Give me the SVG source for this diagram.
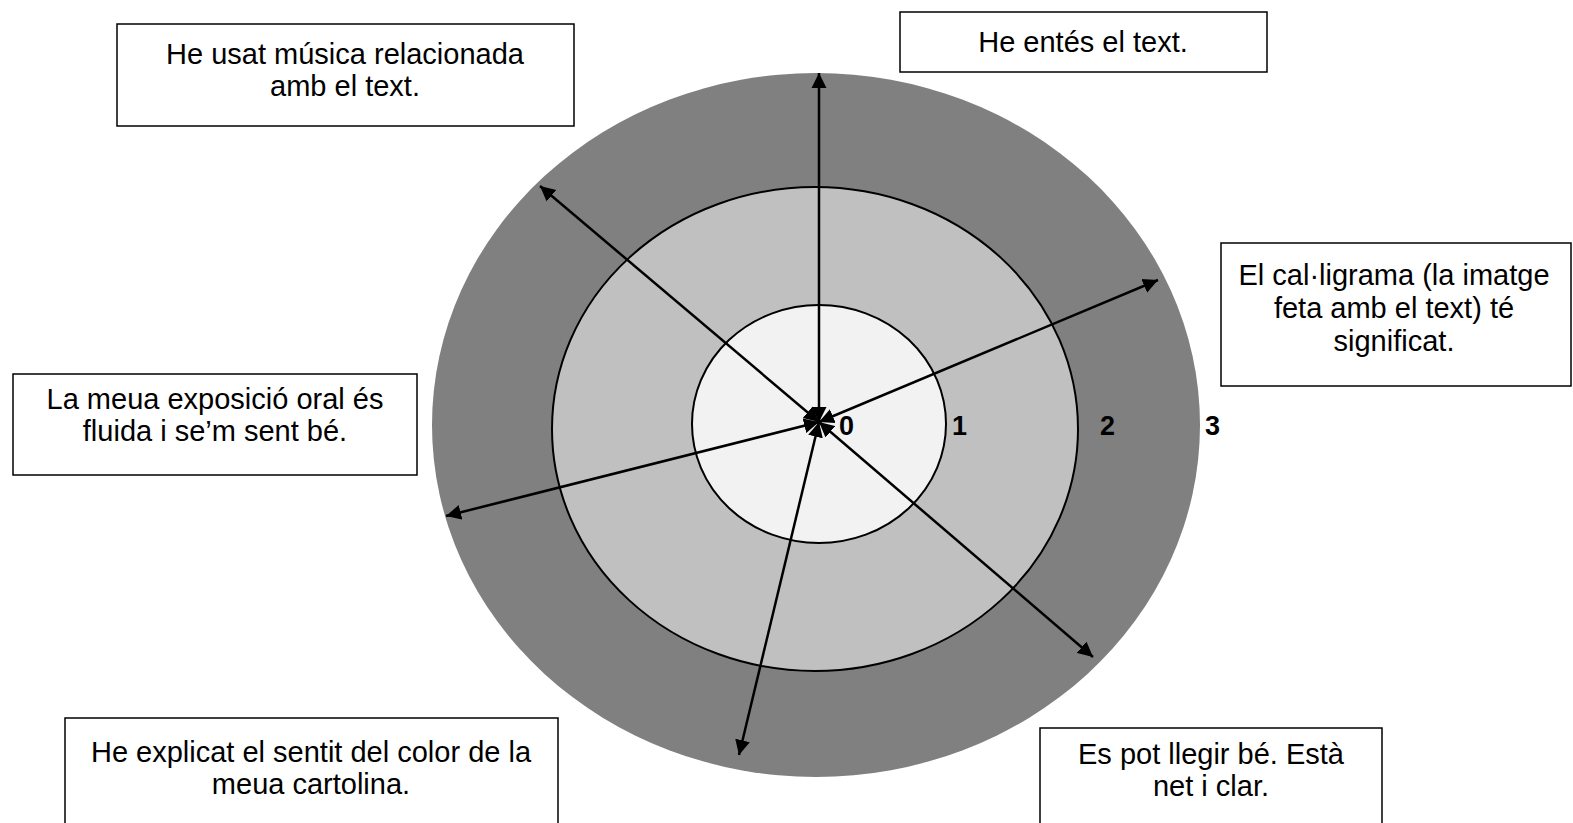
<svg xmlns="http://www.w3.org/2000/svg" width="1573" height="823" viewBox="0 0 1573 823">
<style>
.box{fill:#fff;stroke:#000;stroke-width:1.5}
.t{font-family:"Liberation Sans",Arial,sans-serif;font-size:29px;fill:#000;text-anchor:middle}
.n{font-family:"Liberation Sans",Arial,sans-serif;font-size:27px;font-weight:bold;fill:#000}
.ring{stroke:#000;stroke-width:2}
.ar{stroke:#000;stroke-width:2.5;fill:none;marker-start:url(#ah);marker-end:url(#ah)}
</style>
<defs>
<marker id="ah" markerUnits="userSpaceOnUse" viewBox="0 0 16 16" markerWidth="16" markerHeight="16" refX="15" refY="8" orient="auto-start-reverse">
<path d="M0,0.5 L15,8 L0,15.5 z" fill="#000"/>
</marker>
</defs>
<g id="target">
<ellipse cx="816" cy="425" rx="384" ry="352" fill="#808080"/>
<ellipse class="ring" cx="815" cy="429" rx="263" ry="242" fill="#c0c0c0"/>
<ellipse class="ring" cx="819" cy="424" rx="127" ry="119" fill="#f2f2f2"/>
</g>
<g id="connectors">
<line class="ar" x1="819" y1="422" x2="819" y2="73"/>
<line class="ar" x1="819" y1="422" x2="540" y2="186"/>
<line class="ar" x1="819" y1="422" x2="1158" y2="280"/>
<line class="ar" x1="819" y1="422" x2="446" y2="516"/>
<line class="ar" x1="819" y1="422" x2="739" y2="755"/>
<line class="ar" x1="819" y1="422" x2="1093" y2="657"/>
</g>
<g id="scale">
<text class="n" x="839" y="435">0</text>
<text class="n" x="952" y="435">1</text>
<text class="n" x="1100" y="435">2</text>
<text class="n" x="1205" y="435">3</text>
</g>
<g id="box-musica">
<rect class="box" x="117" y="24" width="457" height="102"/>
<text class="t" x="345" y="64">He usat música relacionada</text>
<text class="t" x="345" y="96">amb el text.</text>
</g>
<g id="box-entes">
<rect class="box" x="900" y="12" width="367" height="60"/>
<text class="t" x="1083" y="52">He entés el text.</text>
</g>
<g id="box-cal">
<rect class="box" x="1221" y="243" width="350" height="143"/>
<text class="t" x="1394" y="285">El cal·ligrama (la imatge</text>
<text class="t" x="1394" y="318">feta amb el text) té</text>
<text class="t" x="1394" y="351">significat.</text>
</g>
<g id="box-oral">
<rect class="box" x="13" y="374" width="404" height="101"/>
<text class="t" x="215" y="409">La meua exposició oral és</text>
<text class="t" x="215" y="441">fluida i se’m sent bé.</text>
</g>
<g id="box-color">
<rect class="box" x="65" y="718" width="493" height="110"/>
<text class="t" x="311" y="762">He explicat el sentit del color de la</text>
<text class="t" x="311" y="794">meua cartolina.</text>
</g>
<g id="box-llegir">
<rect class="box" x="1040" y="728" width="342" height="100"/>
<text class="t" x="1211" y="764">Es pot llegir bé. Està</text>
<text class="t" x="1211" y="796">net i clar.</text>
</g>
</svg>
